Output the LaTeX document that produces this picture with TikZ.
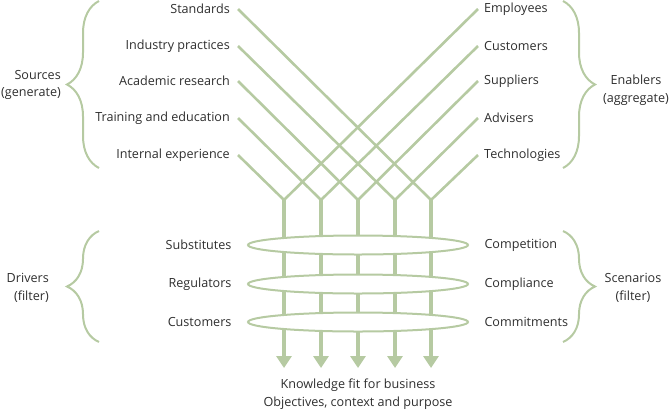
\documentclass[tikz,border=0pt]{standalone}
\usepackage{fontspec}
\setmainfont{Open Sans}
\usepackage{xcolor}
\usetikzlibrary{arrows.meta, positioning, shapes.geometric, decorations.pathreplacing}
\definecolor{sage}{HTML}{B6CAA2}
\definecolor{inkgray}{HTML}{2E2E2E}

\begin{document}
\begin{tikzpicture}[x=1pt, y=-1pt,
  lbl/.style={font=\fontsize{12.6}{17.5}\selectfont, text=inkgray, inner ysep=0pt},
  srcnode/.style={lbl, anchor=east, inner xsep=8pt},
  enbnode/.style={lbl, anchor=west, inner xsep=6pt},
  group/.style={lbl, inner sep=0pt},
  diag/.style={sage, line width=2.6pt},
  stem/.style={sage, line width=4pt, -{Triangle[width=15pt, length=12pt]}},
  ring/.style={ellipse, draw=sage, line width=2pt, fill=white,
    minimum width=220pt, minimum height=19pt, inner sep=0pt},
  brc/.style={sage, line width=2pt, decorate, decoration={brace, amplitude=32pt}},
]
  \useasboundingbox (0,0) rectangle (671,416);

  % sources and enablers
  \node[srcnode] (s1) at (238,155) {Internal experience};
  \node[srcnode] (s2) at (238,118) {Training and education};
  \node[srcnode] (s3) at (238,81) {Academic research};
  \node[srcnode] (s4) at (238,46) {Industry practices};
  \node[srcnode] (s5) at (238,9) {Standards};
  \node[enbnode] (e1) at (478,9) {Employees};
  \node[enbnode] (e2) at (478,46) {Customers};
  \node[enbnode] (e3) at (478,81) {Suppliers};
  \node[enbnode] (e4) at (478,118) {Advisers};
  \node[enbnode] (e5) at (478,155) {Technologies};

  % funnel points and arrow ends
  \foreach \i/\x in {1/284, 2/321, 3/358, 4/395, 5/431} {
    \coordinate (v\i) at (\x,200);
    \coordinate (t\i) at (\x,368);
    \draw[diag] (s\i.east) -- (v\i);
    \draw[diag] (e\i.west) -- (v\i);
    \draw[stem] (v\i) -- (t\i);
  }

  % filters
  \node[ring] (f1) at (358,245) {};
  \node[ring] (f2) at (358,284) {};
  \node[ring] (f3) at (358,322) {};
  \node[lbl, anchor=east] (d1) at (f1.west) [xshift=-12pt] {Substitutes};
  \node[lbl, anchor=east] (d2) at (f2.west) [xshift=-12pt] {Regulators};
  \node[lbl, anchor=east] (d3) at (f3.west) [xshift=-12pt] {Customers};
  \node[lbl, anchor=west] (c1) at (f1.east) [xshift=12pt] {Competition};
  \node[lbl, anchor=west] (c2) at (f2.east) [xshift=12pt] {Compliance};
  \node[lbl, anchor=west] (c3) at (f3.east) [xshift=12pt] {Commitments};

  % braces
  \draw[brc] (99,168) -- (99,1);
  \draw[brc] (99,342) -- (99,231);
  \draw[brc] (563,1) -- (563,168);
  \draw[brc] (563,231) -- (563,342);
  \node[group, anchor=east, align=right] (sources) at (61,85) {Sources\\(generate)};
  \node[group, anchor=east, align=right] (drivers) at (49,288) {Drivers\\(filter)};
  \node[group, align=center] (enablers) at (636,90) {Enablers\\(aggregate)};
  \node[group, align=center] (scenarios) at (633,288) {Scenarios\\(filter)};

  \node[group, align=center] (result) at (358,394) {Knowledge fit for business\\Objectives, context and purpose};
\end{tikzpicture}
\end{document}
